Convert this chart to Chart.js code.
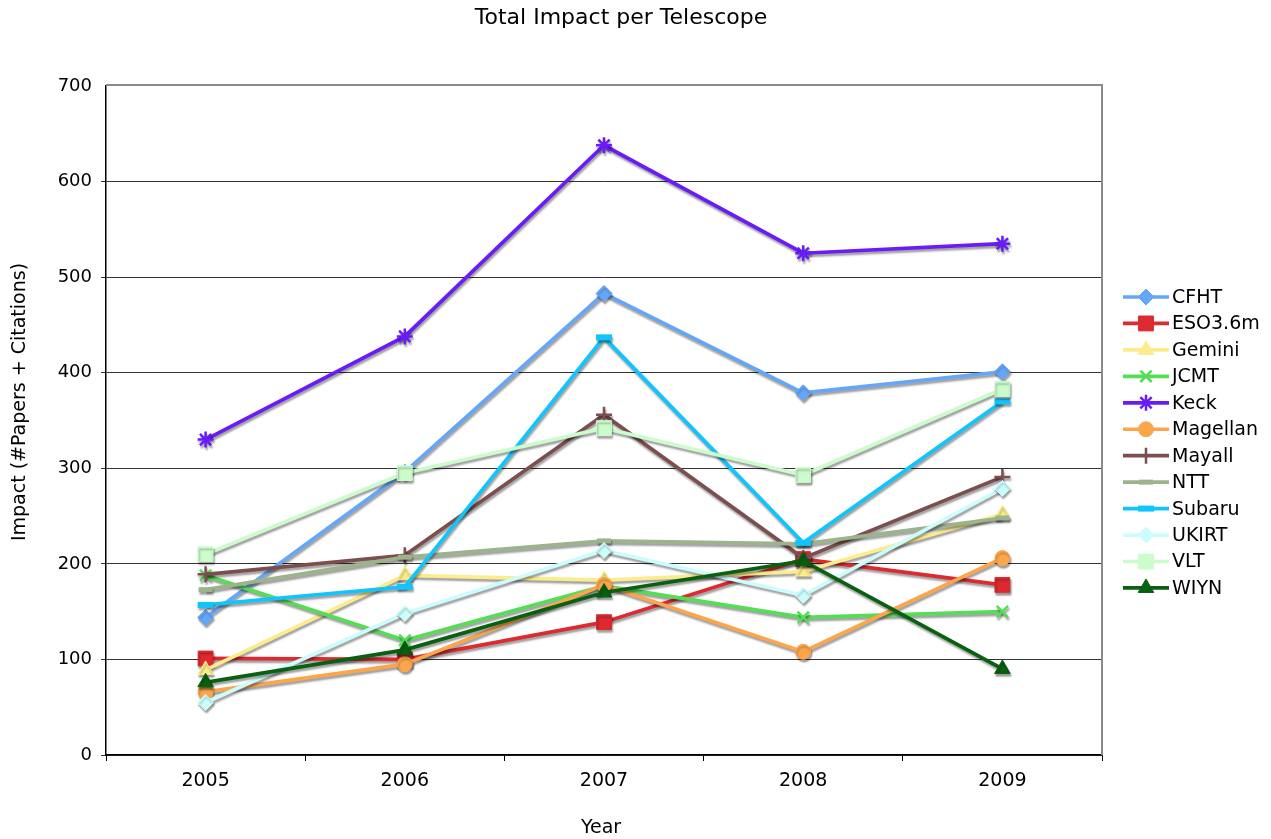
<!DOCTYPE html>
<html>
<head>
<meta charset="utf-8">
<script src="https://cdn.jsdelivr.net/npm/chart.js@4/dist/chart.umd.min.js"></script>
<style>
html,body{margin:0;padding:0;background:#fff;}
#wrap{width:1271px;height:839px;position:relative;}
</style>
</head>
<body>
<div id="wrap"><canvas id="c" width="1271" height="839"></canvas></div>
<script>
const years = ['2005', '2006', '2007', '2008', '2009'];
const yTicks = [0, 100, 200, 300, 400, 500, 600, 700];

const cfht     = [144, 296, 483, 379, 401];
const eso36m   = [101, 100, 139, 205, 178];
const gemini   = [89, 188, 183, 192, 252];
const jcmt     = [188, 120, 177, 144, 150];
const keck     = [330, 438, 638, 525, 535];
const magellan = [66, 95, 178, 108, 206];
const mayall   = [189, 209, 356, 206, 291];
const ntt      = [173, 207, 224, 221, 248];
const subaru   = [157, 176, 437, 222, 370];
const ukirt    = [55, 148, 214, 167, 279];
const vlt      = [210, 295, 342, 293, 383];
const wiyn     = [76, 110, 170, 203, 90];

const seriesNames = ['CFHT','ESO3.6m','Gemini','JCMT','Keck','Magellan','Mayall','NTT','Subaru','UKIRT','VLT','WIYN'];
const seriesData = [cfht, eso36m, gemini, jcmt, keck, magellan, mayall, ntt, subaru, ukirt, vlt, wiyn];
const seriesColors = ['#66a6f8','#dc2a30','#fcec8c','#55dd55','#6a1cf8','#fca64c','#7c4e4e','#9cb38c','#10c4fc','#ccfcfc','#ccfccc','#086010'];
const seriesStyles = [
  {pointStyle:'rectRot', radius:8, borderWidth:1},
  {pointStyle:'rect', radius:10.5, borderWidth:1},
  {pointStyle:'triangle', radius:9, borderWidth:1},
  {pointStyle:'crossRot', radius:8, borderWidth:2.5},
  {pointStyle:'star', radius:8, borderWidth:2.5},
  {pointStyle:'circle', radius:7.5, borderWidth:1},
  {pointStyle:'cross', radius:8, borderWidth:2.5},
  {pointStyle:'line', radius:7, borderWidth:5},
  {pointStyle:'line', radius:8, borderWidth:6},
  {pointStyle:'rectRot', radius:8, borderWidth:1},
  {pointStyle:'rect', radius:10.5, borderWidth:1},
  {pointStyle:'triangle', radius:9, borderWidth:1}
];

const FONT = '"DejaVu Sans", Verdana, sans-serif';
const N = seriesNames.length;

const datasets = seriesNames.map((name, i) => ({
  label: name,
  data: seriesData[i],
  borderColor: seriesColors[i],
  backgroundColor: seriesColors[i],
  pointBackgroundColor: seriesColors[i],
  pointBorderColor: seriesColors[i],
  pointStyle: seriesStyles[i].pointStyle,
  pointRadius: seriesStyles[i].radius,
  pointHoverRadius: seriesStyles[i].radius,
  pointBorderWidth: seriesStyles[i].borderWidth,
  borderWidth: 3.7,
  tension: 0,
  fill: false,
  order: N - i
}));

const framePlugin = {
  id: 'frame',
  beforeDatasetsDraw(chart) {
    const {ctx, chartArea: a} = chart;
    ctx.save();
    ctx.strokeStyle = '#8a8a8a';
    ctx.lineWidth = 2;
    ctx.beginPath();
    ctx.moveTo(a.left, a.top - 1);
    ctx.lineTo(a.right, a.top - 1);
    ctx.lineTo(a.right, a.bottom);
    ctx.stroke();
    ctx.restore();
    ctx.save();
    ctx.shadowColor = 'rgba(0,0,0,0.38)';
    ctx.shadowOffsetX = 1;
    ctx.shadowOffsetY = 2.5;
    ctx.shadowBlur = 2;
  },
  afterDatasetsDraw(chart) {
    chart.ctx.restore();
  },
  afterDraw(chart) {
    const ctx = chart.ctx;
    ctx.save();
    ctx.fillStyle = '#000';
    ctx.font = '22px ' + FONT;
    ctx.textAlign = 'center';
    ctx.textBaseline = 'middle';
    ctx.fillText('Total Impact per Telescope', 621, 18);
    ctx.font = '19px ' + FONT;
    ctx.fillText('Year', 601, 828);
    ctx.save();
    ctx.translate(20, 402);
    ctx.rotate(-Math.PI / 2);
    ctx.fillText('Impact (#Papers + Citations)', 0, 0);
    ctx.restore();
    const x1 = 1123, x2 = 1169, xm = (x1 + x2) / 2;
    const y0 = 297, dy = 26.45;
    chart.data.datasets.forEach((ds, i) => {
      const y = y0 + i * dy;
      ctx.strokeStyle = ds.borderColor;
      ctx.lineWidth = 3.7;
      ctx.beginPath();
      ctx.moveTo(x1, y);
      ctx.lineTo(x2, y);
      ctx.stroke();
      ctx.fillStyle = ds.pointBackgroundColor;
      ctx.strokeStyle = ds.pointBorderColor;
      ctx.lineWidth = ds.pointBorderWidth;
      Chart.helpers.drawPoint(ctx, {pointStyle: ds.pointStyle, radius: ds.pointRadius, rotation: 0, borderWidth: ds.pointBorderWidth}, xm, y);
      ctx.fillStyle = '#000';
      ctx.font = '19px ' + FONT;
      ctx.textAlign = 'left';
      ctx.textBaseline = 'middle';
      ctx.fillText(ds.label, 1172, y + 1);
    });
    ctx.restore();
  }
};

new Chart(document.getElementById('c'), {
  type: 'line',
  data: { labels: years, datasets },
  options: {
    responsive: false,
    animation: false,
    layout: { padding: { top: 86, right: 169, left: 0, bottom: 0 } },
    plugins: { legend: { display: false }, title: { display: false }, tooltip: { enabled: false } },
    scales: {
      x: {
        offset: true,
        grid: { offset: true, drawOnChartArea: false, drawTicks: true, tickLength: 6, color: '#000', lineWidth: 1 },
        border: { display: true, color: '#000', width: 1.5 },
        ticks: { color: '#000', font: { family: FONT, size: 19 }, padding: 9, maxRotation: 0 },
        afterFit(s) { s.height = 84; }
      },
      y: {
        min: 0, max: 700,
        afterBuildTicks(s) { s.ticks = yTicks.map(v => ({ value: v })); },
        grid: { color: (c) => c.tick && c.tick.value === 700 ? 'rgba(0,0,0,0)' : '#333', lineWidth: 1, tickLength: 5, drawTicks: true },
        border: { display: true, color: '#000', width: 1.5 },
        ticks: { color: '#000', font: { family: FONT, size: 18 }, padding: 9 },
        afterFit(s) { s.width = 106; }
      }
    }
  },
  plugins: [framePlugin]
});
</script>
</body>
</html>
